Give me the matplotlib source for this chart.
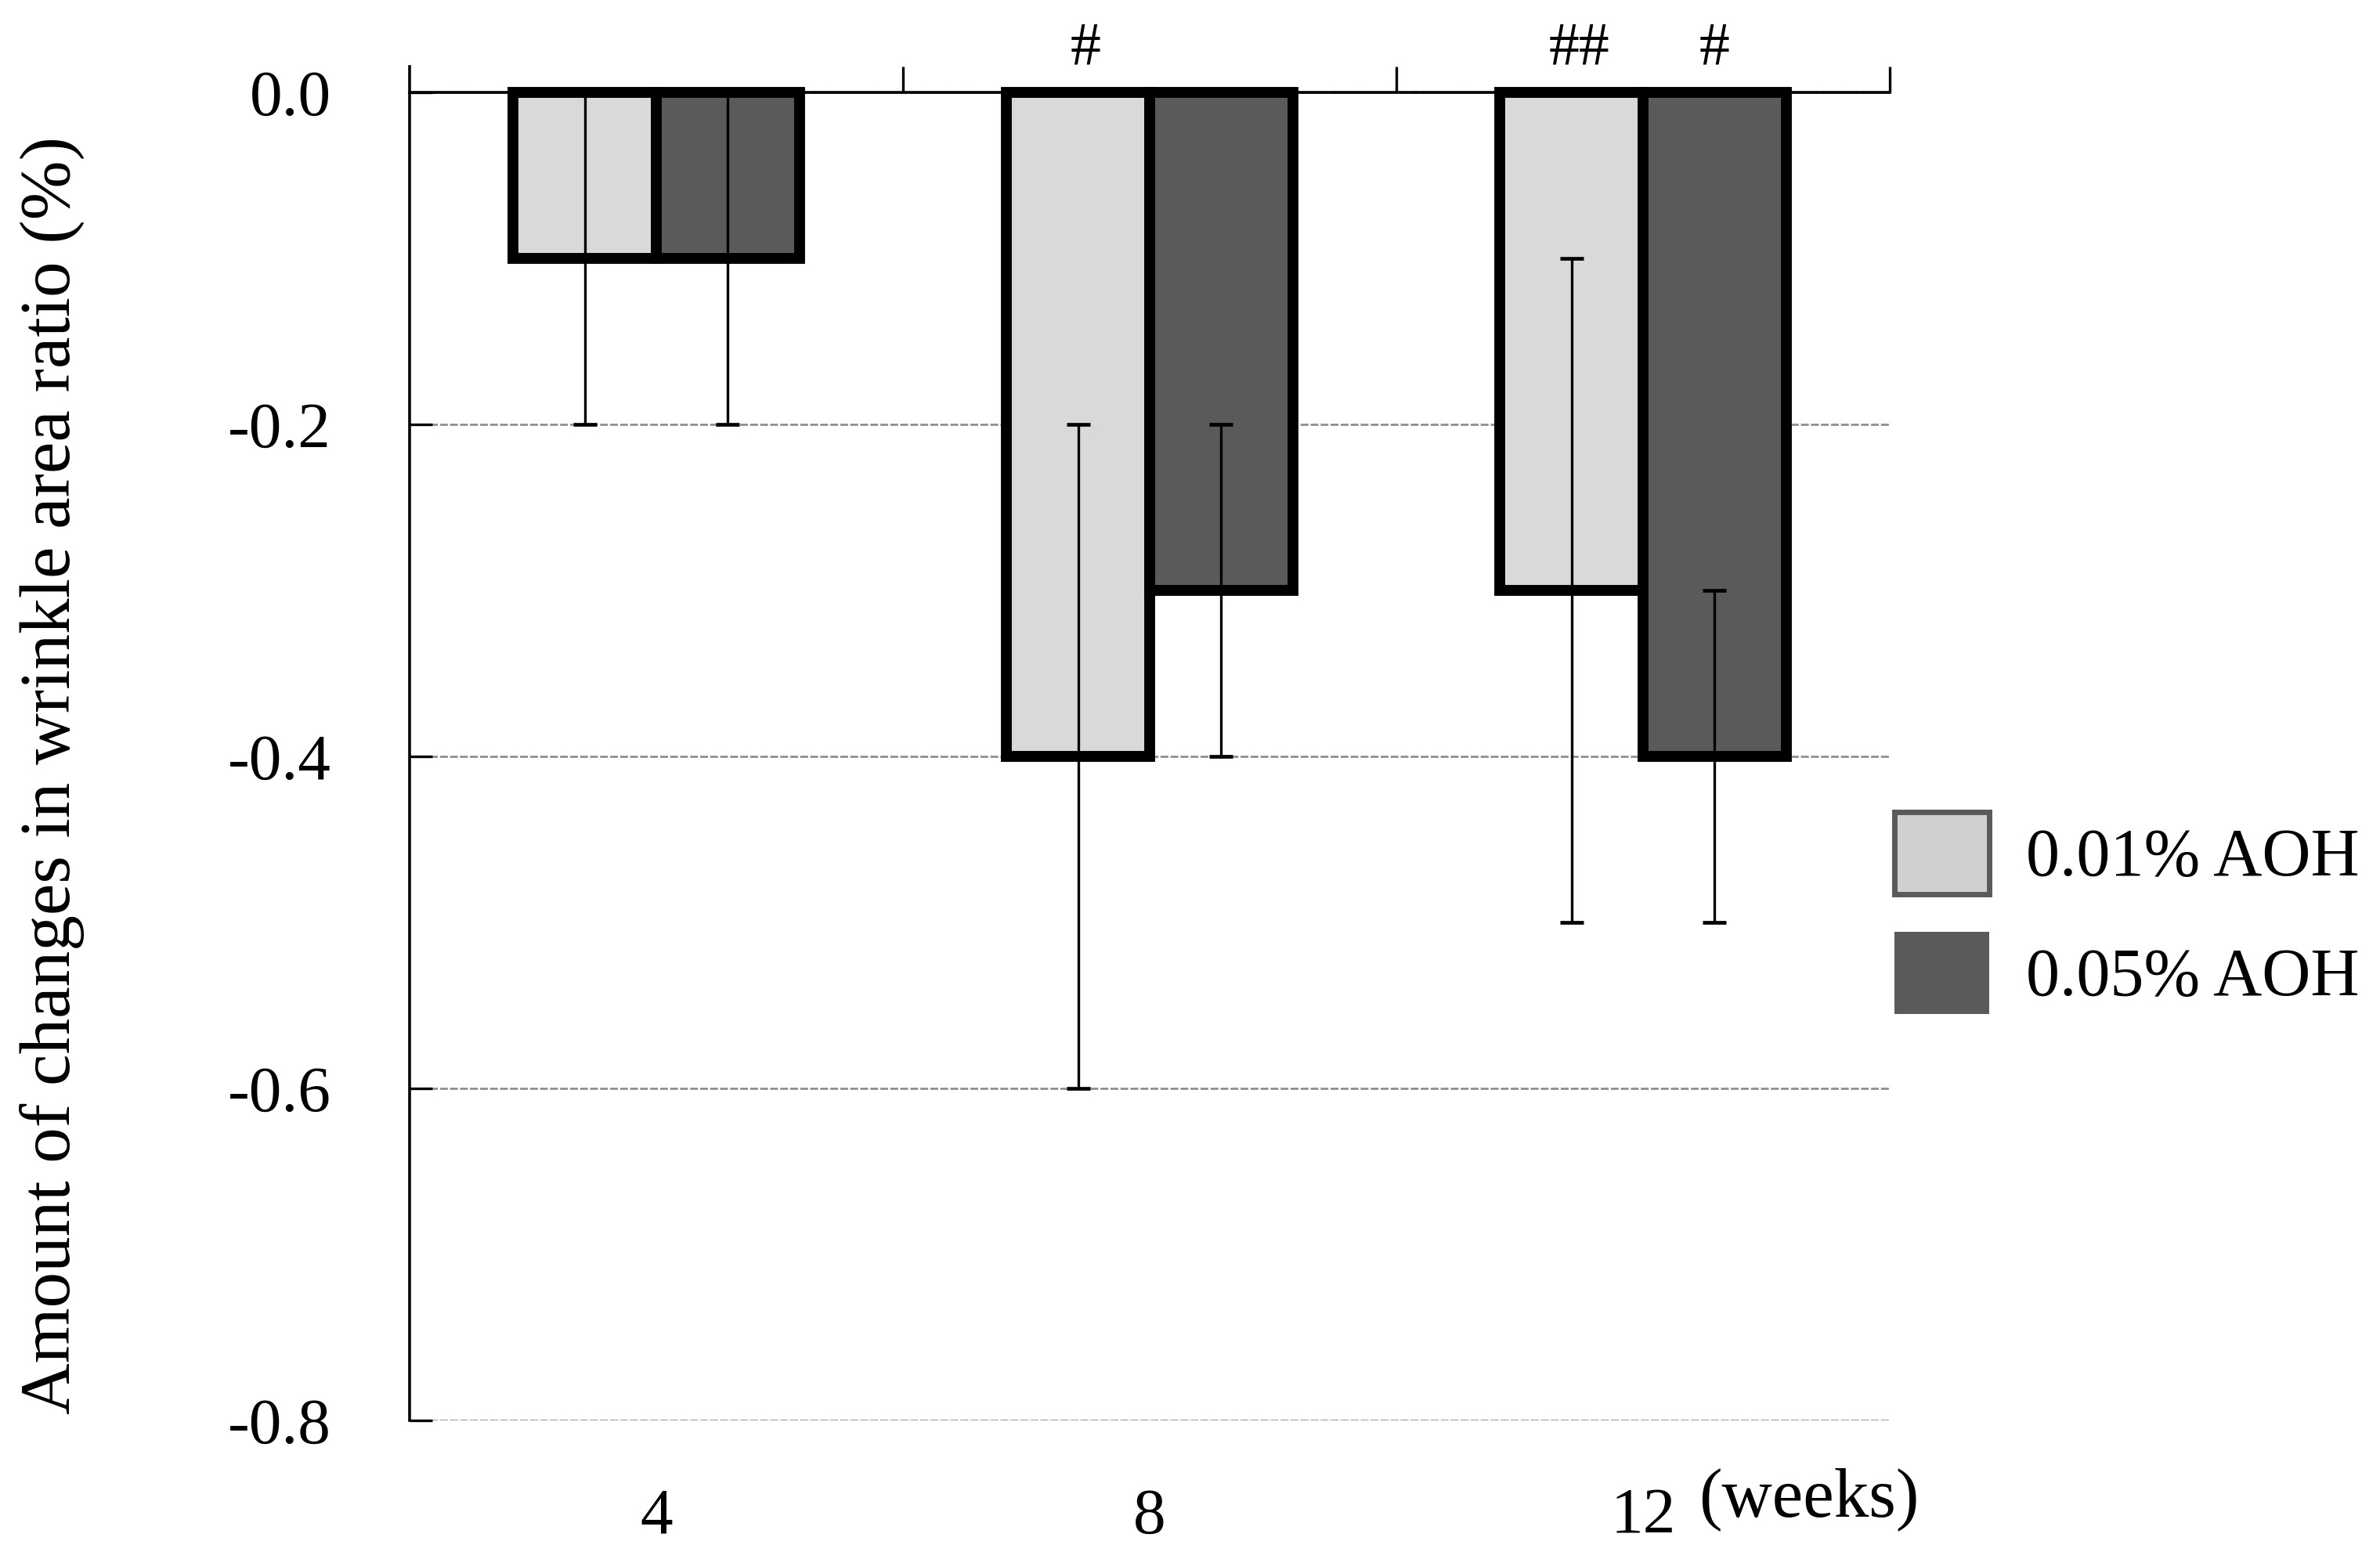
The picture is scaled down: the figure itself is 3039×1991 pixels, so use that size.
import matplotlib
matplotlib.use('Agg')
import matplotlib.pyplot as plt
from matplotlib.patches import Patch
from matplotlib.transforms import blended_transform_factory
import numpy as np

# data
weeks = ['4', '8', '12']
series_names = ['0.01% AOH', '0.05% AOH']
low_dose = [-0.1, -0.4, -0.3]
low_err = [0.1, 0.2, 0.2]
high_dose = [-0.1, -0.3, -0.4]
high_err = [0.1, 0.1, 0.1]
low_marks = ['', '#', '##']
high_marks = ['', '', '#']
y_ticks = [0.0, -0.2, -0.4, -0.6, -0.8]

plt.rcParams['font.family'] = ['Liberation Serif', 'DejaVu Serif']

fig = plt.figure(figsize=(15.195, 9.955), dpi=200)
ax = fig.add_axes([0.1721, 0.0889, 0.6219, 0.8684])

x = np.arange(len(weeks))
w = 0.29
ax.bar(x - w / 2, low_dose, w, color='#d9d9d9', edgecolor='black', linewidth=5, zorder=2)
ax.bar(x + w / 2, high_dose, w, color='#5a5a5a', edgecolor='black', linewidth=5, zorder=2)
ax.errorbar(x - w / 2, low_dose, yerr=low_err, fmt='none', ecolor='black',
            elinewidth=1.2, capsize=5.5, capthick=1.7, zorder=3)
ax.errorbar(x + w / 2, high_dose, yerr=high_err, fmt='none', ecolor='black',
            elinewidth=1.2, capsize=5.5, capthick=1.7, zorder=3)

for xi, m in zip(x - w / 2, low_marks):
    if m:
        ax.text(xi + 0.015, 0.026, m, ha='center', va='center', fontsize=28, clip_on=False)
for xi, m in zip(x + w / 2, high_marks):
    if m:
        ax.text(xi, 0.026, m, ha='center', va='center', fontsize=28, clip_on=False)

ax.set_xlim(-0.5, 2.5)
ax.set_ylim(-0.8, 0.0156)

# x axis line sits at zero, ticks between groups pointing up
ax.spines['top'].set_visible(False)
ax.spines['right'].set_visible(False)
ax.spines['bottom'].set_position(('data', 0))
ax.spines['bottom'].set_linewidth(1.3)
ax.spines['left'].set_linewidth(1.3)
ax.set_xticks([0.5, 1.5, 2.5])
ax.set_xticklabels([])
ax.tick_params(axis='x', direction='in', length=12, width=1.2)

sec = ax.secondary_xaxis('bottom')
sec.set_xticks(x, weeks)
sec.tick_params(length=0, pad=31, labelsize=30)
sec.spines['bottom'].set_visible(False)

ax.set_yticks(y_ticks, [f'{v:.1f}' for v in y_ticks])
ax.tick_params(axis='y', direction='in', length=10.5, width=1.2, pad=36, labelsize=30)
ax.yaxis.grid(True, color='#8f8f8f', linewidth=1, linestyle=(0, (3.6, 1)))
ax.set_axisbelow(True)

trans = blended_transform_factory(ax.transData, ax.transAxes)
ax.text(2.113, -0.058, '(weeks)', transform=trans, ha='left', va='center', fontsize=32)

fig.text(66 / 3039, 0.503, 'Amount of changes in wrinkle area ratio (%)',
         rotation=90, ha='center', va='center', fontsize=32.8)

handles = [Patch(facecolor='#d0d0d0', edgecolor='#5a5a5a', linewidth=2.5),
           Patch(facecolor='#5a5a5a', edgecolor='#5a5a5a', linewidth=0)]
fig.legend(handles, series_names, loc='upper left', bbox_to_anchor=(0.796, 0.479),
           frameon=False, fontsize=31, handlelength=1.4, handleheight=1.5,
           labelspacing=0.55, handletextpad=0.55, borderpad=0, borderaxespad=0)

fig.savefig('out.png', dpi=200)
plt.close(fig)
